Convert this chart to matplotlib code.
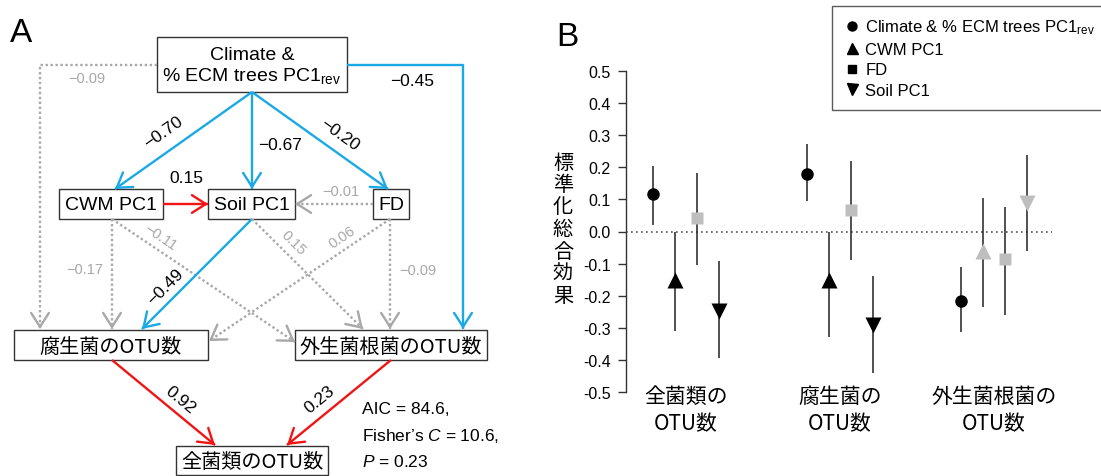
import numpy as np
import matplotlib
matplotlib.use('Agg')
import matplotlib.pyplot as plt
from matplotlib.patches import Rectangle, FancyArrowPatch
from matplotlib.lines import Line2D

plt.rcParams['font.family'] = ['Liberation Sans', 'Noto Sans CJK JP', 'DejaVu Sans']
plt.rcParams['mathtext.fontset'] = 'custom'
plt.rcParams['mathtext.rm'] = 'Liberation Sans'
plt.rcParams['mathtext.it'] = 'Liberation Sans:italic'
plt.rcParams['axes.unicode_minus'] = False

JP = ['Noto Sans CJK JP', 'Liberation Sans']
BLUE = '#1aa9e5'
RED = '#f01414'
GREY = '#a8a8a8'

# ---------------- panel A: path model ----------------
node_names = ['clim', 'cwm', 'soil', 'fd', 'sap', 'ecm', 'all']
node_labels = ['Climate &\n% ECM trees PC1$_{\\rm rev}$', 'CWM PC1', 'Soil PC1', 'FD',
               '腐生菌のOTU数', '外生菌根菌のOTU数', '全菌類のOTU数']
# box extents in pixels (x0, y0, x1, y1), layout only
node_boxes = [(157, 38, 347, 93), (59, 190, 163, 220), (208, 190, 295, 220),
              (373, 190, 409, 220), (14, 331, 208, 361), (295, 331, 487, 361),
              (176, 447, 328, 476)]

# path coefficients and whether they are significant
coef = [-0.70, -0.67, -0.20, -0.45, -0.09, 0.15, -0.01, -0.17, -0.11, -0.49,
        0.15, 0.06, -0.09, 0.92, 0.23]
signif = [True, True, True, True, False, True, False, False, False, True,
          False, False, False, True, True]
# edge routes (pixel layout) and label placement
routes = [[(252, 93), (115, 190)], [(252, 93), (252, 190)], [(252, 93), (388, 190)],
          [(347, 66), (463, 66), (463, 330)], [(157, 66), (40, 66), (40, 330)],
          [(163, 205), (208, 205)], [(373, 205), (295, 205)],
          [(112, 220), (112, 330)], [(112, 220), (295, 343)],
          [(252, 220), (142, 330)], [(252, 220), (363, 330)],
          [(390, 220), (209, 342)], [(390, 220), (390, 330)],
          [(112, 361), (215, 446)], [(391, 361), (287, 446)]]
label_pos = [(163, 133), (280, 146), (340, 135), (412, 82), (87, 79), (186, 179),
             (341, 192), (85, 270), (160, 238), (165, 287), (293, 243), (342, 238),
             (418, 271), (180, 400), (320, 400)]
label_rot = [True, False, True, False, False, False, False, False, True, True,
             True, True, False, True, True]

fig = plt.figure(figsize=(11.01, 4.77), dpi=100)
axA = fig.add_axes([0, 0, 1, 1])
axA.set_xlim(0, 1101)
axA.set_ylim(477, 0)
axA.axis('off')

for name, lab, (x0, y0, x1, y1) in zip(node_names, node_labels, node_boxes):
    axA.add_patch(Rectangle((x0, y0), x1 - x0, y1 - y0, fill=False, ec='#333333', lw=1.0))
    jp = any(ord(c) > 0x3000 for c in lab)
    axA.text((x0 + x1) / 2, (y0 + y1) / 2 + 1, lab, ha='center', va='center',
             fontsize=14.5 if jp else 14, family=JP if jp else None,
             linespacing=1.15)

for r, c, s, lp, rot in zip(routes, coef, signif, label_pos, label_rot):
    if s:
        col = RED if c > 0 else BLUE
        ls = '-'
    else:
        col = GREY
        ls = (0, (1, 1.1))
    xs = [p[0] for p in r]
    ys = [p[1] for p in r]
    axA.plot(xs, ys, color=col, lw=1.7, ls=ls, solid_capstyle='butt')
    (xa, ya), (xb, yb) = r[-2], r[-1]
    d = np.hypot(xb - xa, yb - ya)
    ux, uy = (xb - xa) / d, (yb - ya) / d
    axA.add_patch(FancyArrowPatch((xb - 3 * ux, yb - 3 * uy), (xb, yb),
                                  arrowstyle='->,head_length=0.5,head_width=0.32',
                                  mutation_scale=20, color=col, lw=1.7,
                                  shrinkA=0, shrinkB=0))
    txt = f'{c:.2f}'.replace('-', '\u2212')
    angle = 0
    if rot:
        (x0, y0), (x1, y1) = r[0], r[-1]
        angle = np.degrees(np.arctan2(-(y1 - y0), x1 - x0))
        if angle > 90:
            angle -= 180
        if angle < -90:
            angle += 180
    axA.text(lp[0], lp[1], txt, ha='center', va='center', rotation=angle,
             rotation_mode='anchor', fontsize=12.5 if s else 10.5,
             color='black' if s else GREY)

fit_lines = ['AIC = 84.6,', 'Fisher\u2019s $\\it{C}$ = 10.6,', '$\\it{P}$ = 0.23']
for i, t in enumerate(fit_lines):
    axA.text(362, 410 + i * 26, t, ha='left', va='center', fontsize=12.5)

axA.text(21, 34, 'A', ha='center', va='center', fontsize=24)
axA.text(567, 37, 'B', ha='center', va='center', fontsize=24)

# ---------------- panel B: standardized total effects ----------------
responses = ['全菌類の\nOTU数', '腐生菌の\nOTU数', '外生菌根菌の\nOTU数']
predictors = ['Climate & % ECM trees PC1$_{\\rm rev}$', 'CWM PC1', 'FD', 'Soil PC1']
markers = ['o', '^', 's', 'v']
msizes = [9, 11, 8.5, 11]
effect = np.array([[0.118, -0.150, 0.043, -0.249],
                   [0.180, -0.150, 0.066, -0.290],
                   [-0.218, -0.061, -0.085, 0.088]])
lower = np.array([[0.020, -0.311, -0.105, -0.393],
                  [0.095, -0.329, -0.090, -0.442],
                  [-0.312, -0.235, -0.259, -0.062]])
upper = np.array([[0.203, -0.003, 0.182, -0.092],
                  [0.272, -0.003, 0.219, -0.138],
                  [-0.110, 0.105, 0.077, 0.239]])
significant = np.array([[True, True, False, True],
                        [True, True, False, True],
                        [True, False, False, False]])

axB = fig.add_axes([626 / 1101, (477 - 393) / 477, 426 / 1101, 321 / 477])
axB.set_xlim(0.61, 3.377)
axB.set_ylim(-0.5, 0.5)
axB.axhline(0, color='#555555', lw=1.2, ls=(0, (1, 2)), zorder=1)
offsets = np.array([-1.5, -0.5, 0.5, 1.5]) * 0.143
group_x = np.arange(1, len(responses) + 1)
for j in range(len(predictors)):
    xs = group_x + offsets[j]
    axB.vlines(xs, lower[:, j], upper[:, j], color='#222222', lw=1.1, zorder=2)
    for i in range(len(responses)):
        axB.plot(xs[i], effect[i, j], marker=markers[j], ms=msizes[j], ls='none',
                 color='black' if significant[i, j] else '#bebebe', mec='none', zorder=3)

yt = [-0.5, -0.4, -0.3, -0.2, -0.1, 0.0, 0.1, 0.2, 0.3, 0.4, 0.5]
axB.set_yticks(yt)
axB.set_yticklabels([f'{v:.1f}' for v in yt], fontsize=11.5)
axB.set_xticks(group_x)
axB.set_xticklabels(responses, family=JP, fontsize=15, linespacing=1.3)
axB.tick_params(axis='x', length=0, pad=-5)
axB.tick_params(axis='y', length=6, width=1, pad=5, color='#333333')
for sp in ['top', 'right', 'bottom']:
    axB.spines[sp].set_visible(False)
axB.spines['left'].set_color('#333333')
axB.spines['left'].set_linewidth(1)

fig.text(563 / 1101, 1 - 230 / 477, '\n'.join('標準化総合効果'), ha='center',
         va='center', family=JP, fontsize=14.5, linespacing=1.08)

handles = [Line2D([], [], marker=m, ls='none', color='black', ms=s * 0.72)
           for m, s in zip(markers, msizes)]
leg = fig.legend(handles, predictors, loc='upper left',
                 bbox_to_anchor=(832 / 1101, 1 - 7 / 477), bbox_transform=fig.transFigure,
                 fontsize=12, frameon=True, fancybox=False, edgecolor='#333333',
                 handlelength=1.0, handletextpad=0.3, labelspacing=0.33,
                 borderpad=0.7, borderaxespad=0)
leg.get_frame().set_linewidth(1)

fig.savefig('out.png', dpi=100)
